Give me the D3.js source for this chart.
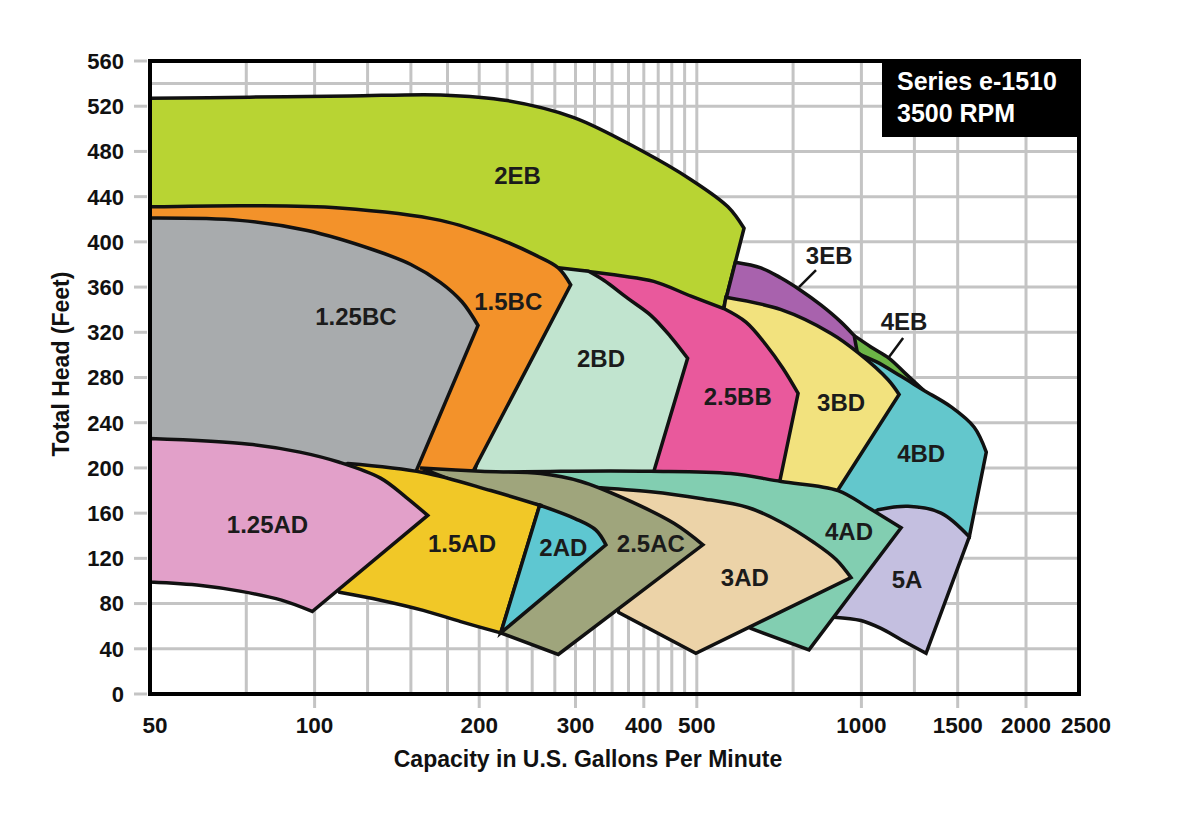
<!DOCTYPE html>
<html><head><meta charset="utf-8">
<script src="https://cdn.jsdelivr.net/npm/d3@7"></script>
<style>html,body{margin:0;background:#fff}</style>
</head><body>
<svg id="chart" width="1200" height="819"></svg>
<script>
// ---------- axis data ----------
const xTicks = [50, 100, 200, 300, 400, 500, 1000, 1500, 2000, 2500];
const yTicks = [0, 40, 80, 120, 160, 200, 240, 280, 320, 360, 400, 440, 480, 520, 560];
const xGrid = [75, 100, 125, 150, 175, 200, 225, 250, 275, 300, 325, 350, 375, 400, 425, 450, 475, 500, 750, 1000, 1250, 1500, 2000];
const yGrid = [40, 80, 120, 160, 200, 240, 280, 320, 360, 400, 440, 480, 520, 540];

// ---------- region boundaries: [gpm, feet], edge lists ----------
const r2EB = [
  [[50,527],[76,528],[116,529],[170,530],[225,525],[298,510],[395,481],[488,455],[570,431],[610,412]],
  [[610,412],[560,342]], [[560,342],[508,313]], [[508,313],[50,313]]
];
const r4EB = [
  [[970,317],[1041,307],[1124,297],[1207,283],[1291,270]],
  [[1291,270],[1182,260]], [[1182,260],[957,285]]
];
const r3EB = [
  [[588,382],[655,377],[713,368],[775,357],[844,344],[918,329],[970,317]],
  [[970,317],[982,303]], [[982,303],[880,304]], [[880,304],[713,322]], [[713,322],[602,331]], [[602,331],[565,349]]
];
const r4BD = [
  [[965,303],[1064,294],[1182,281],[1297,269],[1459,254],[1608,236],[1692,214]],
  [[1692,214],[1575,139]], [[1575,139],[1341,150]], [[1341,150],[1133,156]], [[1133,156],[998,158]],
  [[998,158],[910,172]], [[910,172],[880,189]], [[880,189],[957,303]]
];
const r3BD = [
  [[565,351],[713,340],[880,319],[986,302],[1119,278],[1172,265]],
  [[1172,265],[899,178]], [[899,178],[700,186]], [[700,186],[628,260]], [[628,260],[560,340]]
];
const r25BB = [
  [[313,374],[363,370],[417,365],[488,352],[560,341]],
  [[560,341],[615,329],[669,309],[719,288],[766,266]],
  [[766,266],[709,188]], [[709,188],[417,194]], [[417,194],[395,260]], [[395,260],[334,349]]
];
const r2BD = [
  [[279,377],[317,374]],
  [[317,374],[338,366],[374,350],[412,335],[448,316],[481,297]],
  [[481,297],[415,193]], [[415,193],[195,193]], [[195,193],[219,278]], [[219,278],[264,349]]
];
const r15BC = [
  [[50,431],[76,432],[111,430],[170,419],[219,402],[254,388],[279,377],[294,362]],
  [[294,362],[193,193]], [[193,193],[154,193]], [[154,193],[50,193]]
];
const r125BC = [
  [[50,421],[73,419],[97,410],[128,393],[150,380],[170,364],[186,347],[199,326]],
  [[199,326],[153,196]], [[153,196],[50,196]]
];
const r5A = [
  [[1073,163],[1217,166],[1399,160],[1575,139]],
  [[1575,139],[1313,36]],
  [[1313,36],[1182,48],[1086,58],[998,65],[891,68]],
  [[891,68],[844,119]], [[844,119],[998,154]]
];
const r4AD = [
  [[219,196],[282,197],[412,197],[577,195],[713,188],[906,180],[1028,165],[1182,147]],
  [[1182,147],[802,39]], [[802,39],[628,58]], [[628,58],[508,83]], [[508,83],[334,154]], [[334,154],[238,189]]
];
const r3AD = [
  [[320,183],[412,179],[508,173],[620,165],[713,152],[819,134],[899,119],[957,103]],
  [[957,103],[498,36]], [[498,36],[360,72]], [[360,72],[334,127]], [[334,127],[307,180]]
];
const r25AC = [
  [[156,200],[201,197],[259,195],[307,188],[368,173],[454,151],[513,132]],
  [[513,132],[279,35]], [[279,35],[219,54]], [[219,54],[259,167]], [[259,167],[210,176]]
];
const r15AD = [
  [[115,204],[158,196],[210,180],[258,167]],
  [[258,167],[219,54]],
  [[219,54],[185,64],[158,74],[132,83],[111,90]],
  [[111,90],[102,119]], [[102,119],[107,198]]
];
const r2AD = [
  [[258,167],[300,155],[327,145],[341,132]],
  [[341,132],[219,54]]
];
const r125AD = [
  [[50,226],[76,221],[94,214],[111,205],[132,191],[147,174],[161,158]],
  [[161,158],[99,73]],
  [[99,73],[87,83],[73,91],[62,96],[50,99]]
];

// drawing order (back to front)
const regionNames = ['2EB','4EB','3EB','4BD','3BD','2.5BB','2BD','1.5BC','1.25BC','5A','4AD','3AD','2.5AC','1.5AD','2AD','1.25AD'];
const regionEdges = [r2EB, r4EB, r3EB, r4BD, r3BD, r25BB, r2BD, r15BC, r125BC, r5A, r4AD, r3AD, r25AC, r15AD, r2AD, r125AD];
const regionColors = ['#b8d433','#6cb446','#a862ad','#63c7cc','#f2e27e','#e9599c','#c1e4cf','#f3922a','#a8abad','#c4bfe0','#82ceb1','#ecd3a8','#9fa57c','#f1c827','#5ec7d1','#e2a0c9'];
const labelAt = [[235,459],[1197,330],[873,388],[1286,213],[918,258],[594,263],[334,297],[226,347],[119,334],[1212,101],[949,144],[612,103],[412,133],[186,133],[285,130],[82,150]];
const leaders = [[[769,360],[826,375]], [[1119,297],[1192,315]]];

// ---------- chart ----------
const svg = d3.select('#chart');
const x = d3.scaleLog().domain([50, 2500]).range([150, 1079]);
const y = d3.scaleLinear().domain([0, 560]).range([694, 61]);
const FONT = '"Liberation Sans", Arial, Helvetica, sans-serif';
const gridColor = '#c4c4c4';

// grid
svg.append('g').selectAll('line').data(xGrid).join('line')
  .attr('x1', d => x(d)).attr('x2', d => x(d)).attr('y1', y(560)).attr('y2', y(0))
  .attr('stroke', gridColor).attr('stroke-width', 3);
svg.append('g').selectAll('line').data(yGrid).join('line')
  .attr('x1', x(50)).attr('x2', x(2500)).attr('y1', d => y(d)).attr('y2', d => y(d))
  .attr('stroke', gridColor).attr('stroke-width', 3);

// tick marks outside
svg.append('g').selectAll('line').data(yTicks).join('line')
  .attr('x1', x(50) - 16).attr('x2', x(50) - 3).attr('y1', d => y(d)).attr('y2', d => y(d))
  .attr('stroke', gridColor).attr('stroke-width', 3);
svg.append('g').selectAll('line').data(xTicks.filter(v => v > 50 && v < 2500)).join('line')
  .attr('x1', d => x(d)).attr('x2', d => x(d)).attr('y1', y(0) + 2).attr('y2', y(0) + 14)
  .attr('stroke', gridColor).attr('stroke-width', 3);

// regions
const curveGen = d3.line().x(d => x(d[0])).y(d => y(d[1])).curve(d3.curveCatmullRom.alpha(0.5));
const lineGen = d3.line().x(d => x(d[0])).y(d => y(d[1]));
function regionPath(edges) {
  return edges.map((e, i) => {
    const s = (e.length > 2 ? curveGen : lineGen)(e);
    return i ? 'L' + s.slice(1) : s;
  }).join('') + 'Z';
}
svg.append('g').selectAll('path').data(regionNames).join('path')
  .attr('d', (d, i) => regionPath(regionEdges[i]))
  .attr('fill', (d, i) => regionColors[i])
  .attr('stroke', '#111').attr('stroke-width', 3.5).attr('stroke-linejoin', 'miter').attr('stroke-miterlimit', 6);

// region labels
svg.append('g').selectAll('text').data(regionNames).join('text')
  .attr('x', (d, i) => x(labelAt[i][0])).attr('y', (d, i) => y(labelAt[i][1]))
  .attr('dy', '0.36em').attr('text-anchor', 'middle')
  .attr('font-family', FONT).attr('font-weight', 'bold').attr('font-size', 24)
  .attr('fill', '#1b1b1b').text(d => d);

// leader lines
svg.append('g').selectAll('line').data(leaders).join('line')
  .attr('x1', d => x(d[0][0])).attr('y1', d => y(d[0][1]))
  .attr('x2', d => x(d[1][0])).attr('y2', d => y(d[1][1]))
  .attr('stroke', '#111').attr('stroke-width', 2.5);

// frame
svg.append('rect').attr('x', x(50)).attr('y', y(560))
  .attr('width', x(2500) - x(50)).attr('height', y(0) - y(560))
  .attr('fill', 'none').attr('stroke', '#000').attr('stroke-width', 4);

// title box
svg.append('rect').attr('x', 882).attr('y', y(560))
  .attr('width', x(2500) - 882).attr('height', 137 - y(560)).attr('fill', '#000');
svg.append('text').attr('x', 897).attr('y', 90).attr('fill', '#fff')
  .attr('font-family', FONT).attr('font-weight', 'bold').attr('font-size', 25).text('Series e-1510');
svg.append('text').attr('x', 897).attr('y', 122).attr('fill', '#fff')
  .attr('font-family', FONT).attr('font-weight', 'bold').attr('font-size', 25).text('3500 RPM');

// tick labels
svg.append('g').selectAll('text').data(yTicks).join('text')
  .attr('x', 124).attr('y', d => y(d)).attr('dy', '0.36em').attr('text-anchor', 'end')
  .attr('font-family', FONT).attr('font-weight', 'bold').attr('font-size', 22).attr('fill', '#111')
  .text(d => d);
const lastTick = xTicks.length - 1;
svg.append('g').selectAll('text').data(xTicks).join('text')
  .attr('x', (d, i) => x(d) + (i === 0 ? 5 : i === lastTick ? 7 : 0)).attr('y', 733).attr('text-anchor', 'middle')
  .attr('font-family', FONT).attr('font-weight', 'bold').attr('font-size', 22.5).attr('fill', '#111')
  .text(d => d);

// axis titles
svg.append('text').attr('x', 588).attr('y', 767).attr('text-anchor', 'middle')
  .attr('font-family', FONT).attr('font-weight', 'bold').attr('font-size', 23).attr('fill', '#111')
  .text('Capacity in U.S. Gallons Per Minute');
svg.append('text').attr('transform', 'translate(61,364) rotate(-90)').attr('dy', '0.36em')
  .attr('text-anchor', 'middle')
  .attr('font-family', FONT).attr('font-weight', 'bold').attr('font-size', 23).attr('fill', '#111')
  .text('Total Head (Feet)');
</script>
</body></html>
